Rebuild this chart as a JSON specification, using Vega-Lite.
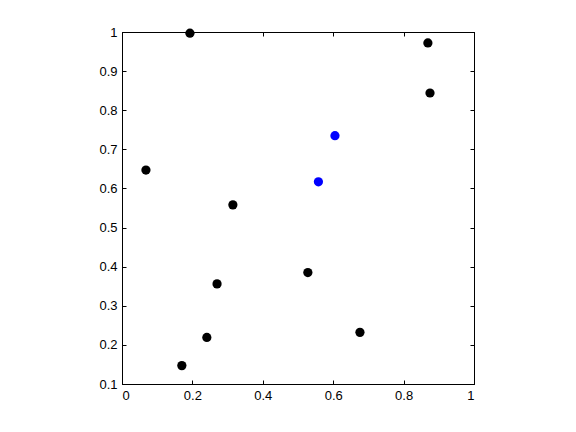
{
  "$schema": "https://vega.github.io/schema/vega-lite/v6.json",
  "autosize": {"type": "none"},
  "width": 352,
  "height": 352,
  "padding": {"left": 122, "top": 32, "right": 102, "bottom": 48},
  "background": "white",
  "config": {
    "view": {"stroke": "black", "strokeWidth": 1},
    "axis": {"grid": false, "domainColor": "black", "tickColor": "black", "labelColor": "black", "labelFont": "Liberation Sans", "labelFontSize": 13, "tickSize": -4, "labelPadding": 9, "title": null}
  },
  "data": {"values": [
    {"x": 0.193, "y": 0.997, "g": "a"},
    {"x": 0.869, "y": 0.972, "g": "a"},
    {"x": 0.875, "y": 0.844, "g": "a"},
    {"x": 0.605, "y": 0.735, "g": "b"},
    {"x": 0.068, "y": 0.647, "g": "a"},
    {"x": 0.558, "y": 0.617, "g": "b"},
    {"x": 0.315, "y": 0.558, "g": "a"},
    {"x": 0.528, "y": 0.385, "g": "a"},
    {"x": 0.270, "y": 0.356, "g": "a"},
    {"x": 0.676, "y": 0.232, "g": "a"},
    {"x": 0.241, "y": 0.219, "g": "a"},
    {"x": 0.170, "y": 0.147, "g": "a"}
  ]},
  "layer": [
    {
      "mark": {"type": "point", "filled": true, "opacity": 1, "size": 85},
      "encoding": {
        "x": {"field": "x", "type": "quantitative", "scale": {"domain": [0, 1], "nice": false}, "axis": {"orient": "bottom", "values": [0, 0.2, 0.4, 0.6, 0.8, 1], "format": "~g"}},
        "y": {"field": "y", "type": "quantitative", "scale": {"domain": [0.1, 1], "nice": false}, "axis": {"orient": "left", "values": [0.1, 0.2, 0.3, 0.4, 0.5, 0.6, 0.7, 0.8, 0.9, 1], "format": "~g"}},
        "color": {"field": "g", "type": "nominal", "scale": {"domain": ["a", "b"], "range": ["black", "#0000ff"]}, "legend": null}
      }
    },
    {
      "mark": {"type": "point", "opacity": 0},
      "encoding": {
        "x": {"field": "x", "type": "quantitative", "axis": {"orient": "top", "values": [0, 0.2, 0.4, 0.6, 0.8, 1], "labels": false}},
        "y": {"field": "y", "type": "quantitative", "axis": {"orient": "right", "values": [0.1, 0.2, 0.3, 0.4, 0.5, 0.6, 0.7, 0.8, 0.9, 1], "labels": false}}
      }
    }
  ],
  "resolve": {"axis": {"x": "independent", "y": "independent"}}
}
